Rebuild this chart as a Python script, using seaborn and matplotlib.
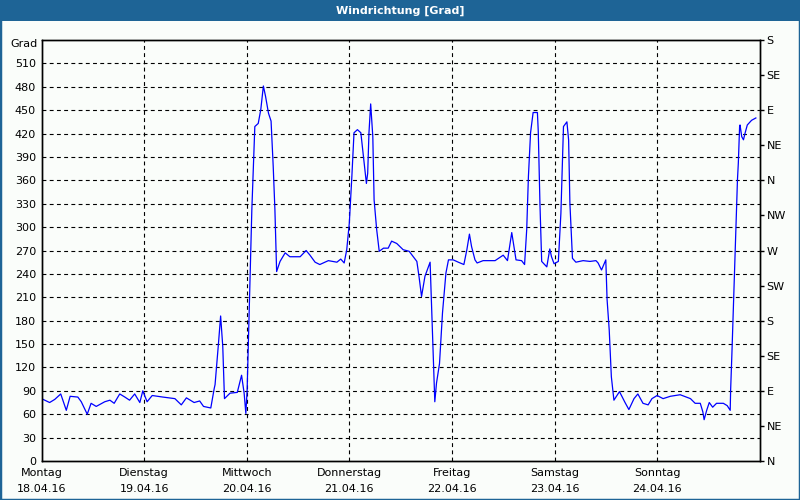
import numpy as np
import pandas as pd
import seaborn as sns
from matplotlib import pyplot as plt
from matplotlib.patches import Rectangle

# hours since Monday 18.04.16 00:00 and wind direction in degrees
hours = [0, 1.9, 3.1, 4.5, 5.8, 6.7, 8.5, 9.3, 10.7, 11.6, 12.8, 14.8, 16.0, 17.0,
         18.3, 19.5, 20.6, 21.8, 23.0, 23.7, 24.7, 25.9, 28.4, 31.2, 32.7, 33.9,
         35.7, 37.0, 37.9, 39.6, 40.4, 40.6, 41.4, 41.9, 42.4, 42.8, 44.1, 45.8,
         46.8, 47.4, 47.8, 48.1, 48.8, 49.2, 49.5, 49.9, 50.7, 51.3, 51.9, 52.4,
         53.1, 53.7, 54.2, 54.6, 55.0, 55.8, 57.0, 58.1, 60.5, 61.9, 62.8, 64.0,
         65.1, 67.1, 69.1, 70.0, 70.8, 71.4, 72.0, 72.6, 73.1, 73.9, 74.7, 75.3,
         76.0, 76.3, 76.6, 77.0, 77.5, 77.8, 78.4, 79.0, 80.0, 81.1, 81.9, 83.1,
         84.6, 86.0, 87.8, 88.3, 88.9, 89.7, 90.9, 91.3, 91.7, 92.0, 92.4, 93.1,
         93.8, 94.6, 95.2, 96.3, 97.5, 98.8, 99.5, 100.1, 100.6, 101.4, 101.9,
         103.3, 106.1, 108.0, 109.0, 109.5, 110.0, 110.4, 111.0, 112.3, 113.0,
         113.5, 113.9, 114.4, 115.0, 116.0, 116.2, 116.6, 117.0, 118.2, 118.9,
         119.3, 119.9, 120.9, 121.5, 122.1, 122.9, 123.3, 123.6, 124.2, 125.0,
         126.7, 128.3, 129.7, 130.2, 131.0, 132.0, 132.3, 132.8, 133.3, 133.9,
         135.2, 136.5, 137.4, 138.6, 139.5, 140.7, 141.9, 142.8, 144.0, 145.4,
         147.1, 149.4, 151.8, 152.9, 154.1, 154.7, 155.0, 155.6, 156.2, 157.0,
         157.9, 159.5, 160.4, 161.1, 161.2, 161.5, 162.8, 163.0, 163.3, 163.4,
         163.8, 164.2, 164.6, 165.1, 166.1, 167.1]
grad = [80, 75, 79, 86, 65, 83, 82, 76, 60, 74, 70, 76, 78, 74,
        86, 82, 78, 86, 75, 90, 76, 84, 82, 80, 72, 81,
        75, 77, 70, 68, 93, 98, 151, 186, 147, 80, 87, 88,
        110, 87, 61, 91, 237, 322, 369, 429, 433, 451, 481, 468,
        446, 436, 378, 322, 243, 256, 267, 262, 262, 270, 264, 255,
        252, 257, 255, 259, 254, 271, 305, 365, 421, 425, 421, 391,
        356, 369, 421, 458, 416, 335, 297, 269, 273, 273, 282, 279,
        271, 269, 256, 237, 211, 237, 255, 190, 125, 76, 100, 125,
        190, 241, 258, 258, 255, 252, 271, 291, 275, 258, 254,
        257, 257, 264, 257, 275, 293, 279, 258, 257, 252,
        297, 365, 421, 447, 447, 423, 329, 256, 249, 272,
        262, 253, 256, 318, 429, 435, 412, 331, 260, 255,
        257, 256, 257, 254, 245, 258, 207, 168, 108, 78,
        89, 75, 66, 80, 86, 74, 72, 80, 84, 80,
        83, 85, 80, 74, 74, 63, 53, 65, 75, 69,
        74, 74, 71, 65, 91, 138, 361, 382, 429, 431,
        416, 412, 421, 431, 437, 440]

day_names = ["Montag", "Dienstag", "Mittwoch", "Donnerstag", "Freitag", "Samstag", "Sonntag"]
day_dates = ["18.04.16", "19.04.16", "20.04.16", "21.04.16", "22.04.16", "23.04.16", "24.04.16"]
left_ticks = list(range(0, 511, 30))
compass = ["N", "NE", "E", "SE", "S", "SW", "W", "NW", "N", "NE", "E", "SE", "S"]

df = pd.DataFrame({"h": hours, "grad": grad})

bg = "#fafdfa"
frame_blue = "#1e6496"

fig = plt.figure(figsize=(8, 5), dpi=100, facecolor=bg)
ax = fig.add_axes([41.5 / 800, 1 - 461 / 500, 718.2 / 800, 421 / 500])
ax.set_facecolor(bg)

sns.lineplot(data=df, x="h", y="grad", ax=ax, color="#0000ff", linewidth=0.9)

ax.set_xlim(0, 168)
ax.set_ylim(0, 540)
ax.set_xlabel("")
ax.set_ylabel("")

# horizontal / vertical dashed grid
for v in left_ticks[1:]:
    ax.axhline(v, color="black", linewidth=0.8, linestyle=(0, (3.5, 3)), zorder=0)
for d in range(1, 7):
    ax.axvline(d * 24, color="black", linewidth=0.8, linestyle=(0, (3.5, 3)), zorder=0)

ax.set_yticks(left_ticks)
ax.set_yticklabels([str(v) for v in left_ticks])
ax.set_xticks([d * 24 for d in range(7)])
ax.set_xticklabels([n + "\n" + dt for n, dt in zip(day_names, day_dates)], linespacing=1.7)
ax.tick_params(axis="y", length=0, pad=4, labelsize=8)
ax.tick_params(axis="x", length=0, pad=5, labelsize=8)
for s in ax.spines.values():
    s.set_linewidth(1.0)
ax.text(-0.005, 535, "Grad", transform=ax.get_yaxis_transform(), ha="right",
        va="center", fontsize=8)

ax2 = ax.twinx()
ax2.set_ylim(0, 540)
ax2.set_yticks(list(range(0, 541, 45)))
ax2.set_yticklabels(compass)
ax2.tick_params(axis="y", length=3, width=1, pad=2, labelsize=8)
for s in ax2.spines.values():
    s.set_linewidth(1.0)

# title bar and window border
fig.patches.append(Rectangle((0, 1 - 21 / 500), 1, 21 / 500, transform=fig.transFigure,
                             facecolor=frame_blue, edgecolor="none", zorder=0))
fig.patches.append(Rectangle((0, 0), 1, 1, transform=fig.transFigure,
                             facecolor="none", edgecolor=frame_blue, linewidth=2.5, zorder=0))
fig.text(0.5, 1 - 10.5 / 500, "Windrichtung [Grad]", ha="center", va="center",
         color="white", fontsize=8, fontweight="bold")

fig.savefig("out.png", dpi=100, facecolor=bg)
